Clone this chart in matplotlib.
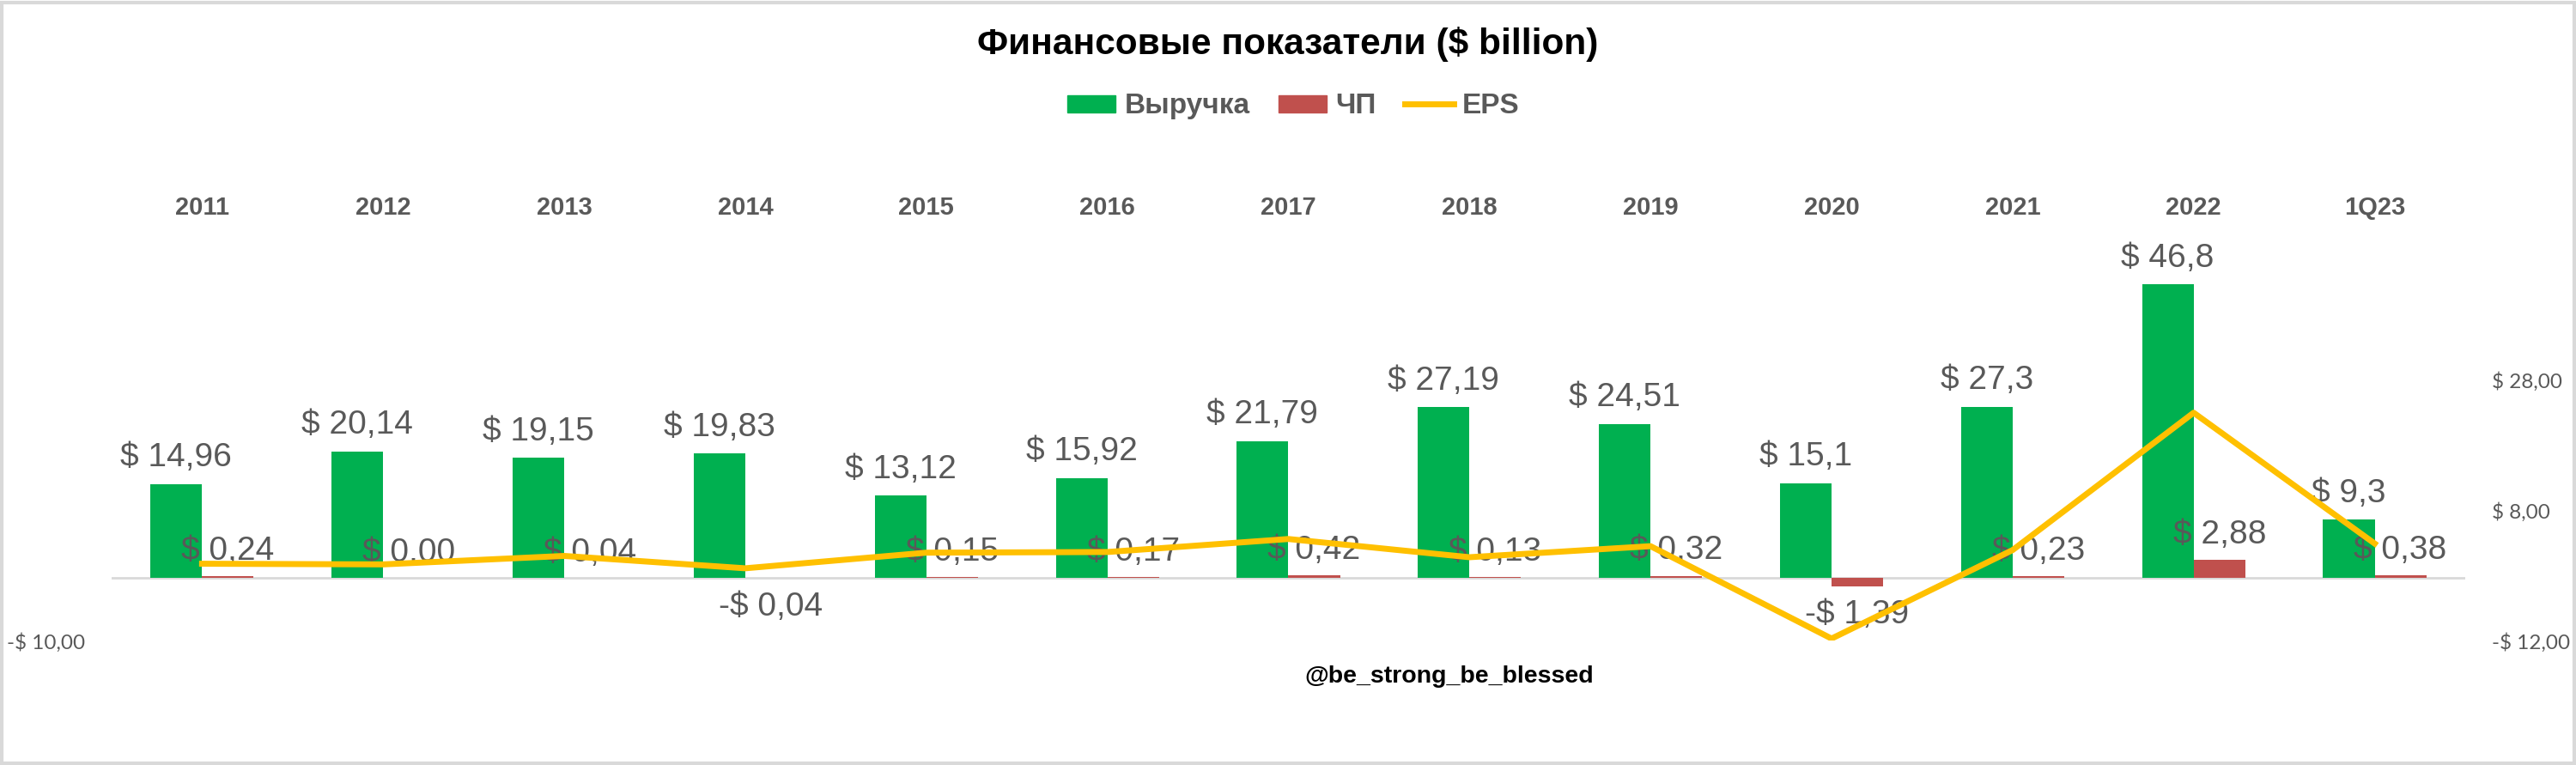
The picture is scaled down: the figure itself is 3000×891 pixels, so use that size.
import matplotlib
matplotlib.use("Agg")
import matplotlib.pyplot as plt
import numpy as np
from matplotlib.patches import Patch, Rectangle
from matplotlib.lines import Line2D

# данные
categories = ["2011", "2012", "2013", "2014", "2015", "2016", "2017",
              "2018", "2019", "2020", "2021", "2022", "1Q23"]
revenue = [14.96, 20.14, 19.15, 19.83, 13.12, 15.92, 21.79,
           27.19, 24.51, 15.1, 27.3, 46.8, 9.3]
net_profit = [0.24, 0.00, 0.04, -0.04, 0.15, 0.17, 0.42,
              0.13, 0.32, -1.39, 0.23, 2.88, 0.38]
eps = [-0.2, -0.3, 1.0, -0.9, 1.5, 1.6, 3.6,
       0.8, 2.5, -11.7, 1.9, 23.0, 2.9]

GREEN = "#00B050"
RED = "#C0504D"
YELLOW = "#FFC000"
GREY = "#595959"
FONT = "Liberation Sans"

plt.rcParams["font.family"] = [FONT, "DejaVu Sans"]

fig = plt.figure(figsize=(30, 8.91), dpi=100)
ax = fig.add_axes([0.0433, 0.1627, 0.9137, 0.5173])
ax2 = ax.twinx()

x = np.arange(len(categories))
w = 0.285

ax.bar(x - w / 2, revenue, width=w, color=GREEN, zorder=2)
ax.bar(x + w / 2, net_profit, width=w, color=RED, zorder=2)
ax.axhline(0, color="#D9D9D9", lw=2, zorder=1)

ax.set_xlim(-0.5, len(categories) - 0.5)
ax.set_ylim(-10, 53.1)
ax2.set_ylim(-12, 48.8)

# подписи выручки
for xi, v in zip(x, revenue):
    txt = "$ " + f"{v:g}".replace(".", ",")
    ax.annotate(txt, (xi - w / 2, v), xytext=(0, 22), textcoords="offset points",
                ha="center", va="center", fontsize=28, color=GREY, zorder=5)

# подписи ЧП
for xi, v in zip(x, net_profit):
    txt = ("-$ " if v < 0 else "$ ") + f"{abs(v):.2f}".replace(".", ",")
    off = 21 if v >= 0 else -24
    ax.annotate(txt, (xi + w / 2, v), xytext=(0, off), textcoords="offset points",
                ha="center", va="center", fontsize=28, color=GREY, zorder=5)

ax2.plot(x, eps, color=YELLOW, lw=5, zorder=3)

# оси
for a in (ax, ax2):
    for s in a.spines.values():
        s.set_visible(False)
ax.xaxis.tick_top()
ax.set_xticks(x)
ax.set_xticklabels(categories, fontsize=21, fontweight="bold", color=GREY)
ax.tick_params(axis="x", length=0, pad=21)
ax.set_yticks([-10])
ax.set_yticklabels(["-$ 10,00"], fontsize=17.5, color=GREY, family=["Lato", "DejaVu Sans"])
ax.tick_params(axis="y", length=0, pad=22)
ax2.set_yticks([-12, 8, 28])
ax2.set_yticklabels(["-$ 12,00", "$ 8,00", "$ 28,00"], fontsize=17.5, color=GREY,
                    family=["Lato", "DejaVu Sans"])
ax2.tick_params(axis="y", length=0, pad=22)

fig.text(0.5, 0.942, "Финансовые показатели ($ billion)", ha="center", va="center",
         fontsize=30.5, fontweight="bold", color="black")

handles = [Patch(color=GREEN), Patch(color=RED), Line2D([], [], color=YELLOW, lw=5)]
leg = fig.legend(handles, ["Выручка", "ЧП", "EPS"], loc="center", bbox_to_anchor=(0.502, 0.861),
                 ncol=3, frameon=False, fontsize=24, handlelength=1.7, handleheight=0.55,
                 columnspacing=1.0, handletextpad=0.3)
for t in leg.get_texts():
    t.set_color(GREY)
    t.set_fontweight("bold")

fig.text(0.5626, 0.116, "@be_strong_be_blessed", ha="center", va="center",
         fontsize=20.5, fontweight="bold", color="black")

# рамка
fig.patches.append(Rectangle((0.0008, 0.002), 0.9984, 0.995, transform=fig.transFigure,
                             fill=False, edgecolor="#D9D9D9", lw=3))

fig.savefig("out.png", dpi=100, facecolor="white")
